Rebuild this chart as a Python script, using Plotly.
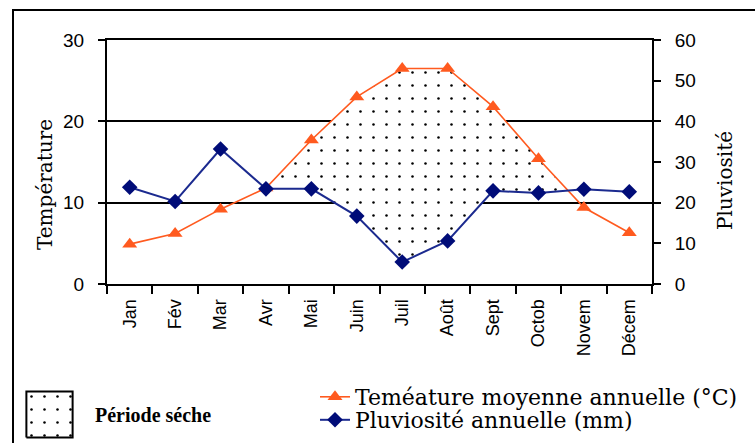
import numpy as np
import plotly.graph_objects as go

# ---------------- data ----------------
months = ["Jan", "Fév", "Mar", "Avr", "Mai", "Juin", "Juil", "Août", "Sept", "Octob", "Novem", "Décem"]
temperature = [4.9, 6.2, 9.2, 11.8, 17.7, 23.0, 26.5, 26.5, 21.8, 15.4, 9.4, 6.3]
pluviosite = [23.8, 20.3, 33.2, 23.4, 23.4, 16.7, 5.4, 10.6, 22.9, 22.4, 23.3, 22.7]
temp_ticks = [0, 10, 20, 30]
pluvio_ticks = [0, 10, 20, 30, 40, 50, 60]
series_names = ["Teméature moyenne annuelle (°C)", "Pluviosité annuelle (mm)"]

W, H = 755, 443
# plot area in pixels
PL, PR, PT, PB = 107, 652, 40, 284

ORANGE = "#FF5A1F"
NAVY_LINE = "#1B2A8F"
NAVY_MARK = "#000C78"

x = np.arange(len(months), dtype=float)
t = np.array(temperature, dtype=float)
p2 = np.array(pluviosite, dtype=float) / 2.0  # Gaussen: P = 2T
d = t - p2

# dry-period polygons (T above P/2), with interpolated crossings
regions = []
cur = None
for i in range(len(x)):
    if d[i] >= 0:
        if cur is None:
            cur = []
            if i > 0:
                f = d[i - 1] / (d[i - 1] - d[i])
                xc = x[i - 1] + f
                yc = t[i - 1] + f * (t[i] - t[i - 1])
                cur.append((xc, yc, yc))
        cur.append((x[i], t[i], p2[i]))
    else:
        if cur is not None:
            f = d[i - 1] / (d[i - 1] - d[i])
            xc = x[i - 1] + f
            yc = t[i - 1] + f * (t[i] - t[i - 1])
            cur.append((xc, yc, yc))
            regions.append(cur)
            cur = None
if cur is not None:
    regions.append(cur)

pattern = dict(shape=".", size=13, solidity=0.03, fgcolor="black", bgcolor="white", fillmode="replace")

serif = "DejaVu Serif"
sans = "Liberation Sans, Arial, sans-serif"

fig = go.Figure()

for reg in regions:
    xs = [r[0] for r in reg]
    up = [r[1] for r in reg]
    lo = [r[2] for r in reg]
    fig.add_trace(go.Scatter(
        x=xs + xs[::-1], y=up + lo[::-1], mode="lines", fill="toself",
        fillcolor="white", fillpattern=pattern, line=dict(width=0),
        hoverinfo="skip", showlegend=False, xaxis="x", yaxis="y"))

fig.add_trace(go.Scatter(
    x=x, y=temperature, mode="lines+markers",
    name=series_names[0],
    line=dict(color=ORANGE, width=1.6),
    marker=dict(symbol="triangle-up", size=13, color=ORANGE),
    xaxis="x", yaxis="y", legend="legend"))

fig.add_trace(go.Scatter(
    x=x, y=pluviosite, mode="lines+markers",
    name=series_names[1],
    line=dict(color=NAVY_LINE, width=2),
    marker=dict(symbol="diamond", size=12, color=NAVY_MARK),
    xaxis="x", yaxis="y2", legend="legend2"))

# legend key box for "Période séche"
fig.add_trace(go.Scatter(
    x=[0, 1, 1, 0, 0], y=[0, 0, 1, 1, 0], mode="lines", fill="toself",
    fillcolor="white", fillpattern=pattern, line=dict(color="black", width=2),
    hoverinfo="skip", showlegend=False, xaxis="x2", yaxis="y4"))

tick_font = dict(family=sans, size=19, color="black")
legend_font = dict(family=serif, size=22, color="black")

leg_common = dict(xanchor="left", yanchor="middle", font=legend_font,
                  bgcolor="rgba(0,0,0,0)", borderwidth=0, itemwidth=30)

fig.update_layout(
    width=W, height=H,
    font=dict(family=serif, size=21, color="black"),
    margin=dict(l=0, r=0, t=0, b=0, autoexpand=False),
    paper_bgcolor="white", plot_bgcolor="white",
    xaxis=dict(
        domain=[PL / W, PR / W], range=[-0.5, len(months) - 0.5],
        tickmode="array", tickvals=list(x), ticktext=months,
        tickangle=-90, ticks="", ticklabelstandoff=6,
        tickfont=dict(family=sans, size=18, color="black"),
        showgrid=False, zeroline=False,
        showline=True, linecolor="black", linewidth=2, mirror=True,
        minor=dict(ticks="outside", ticklen=8, tickwidth=2, tickcolor="black",
                   tick0=-0.5, dtick=1, showgrid=False),
        anchor="y", automargin=False, fixedrange=True),
    yaxis=dict(
        domain=[1 - PB / H, 1 - PT / H], range=[0, 30],
        tickmode="array", tickvals=temp_ticks,
        ticks="outside", ticklen=7, tickwidth=2, tickcolor="black",
        ticklabelstandoff=10, tickfont=tick_font,
        showgrid=True, gridcolor="black", gridwidth=2,
        zeroline=False, showline=True, linecolor="black", linewidth=2,
        anchor="x", automargin=False, fixedrange=True),
    yaxis2=dict(
        overlaying="y", side="right", anchor="x", range=[0, 60],
        tickmode="array", tickvals=pluvio_ticks,
        ticks="outside", ticklen=7, tickwidth=2, tickcolor="black",
        ticklabelstandoff=10, tickfont=tick_font,
        showgrid=False, zeroline=False, showline=True, linecolor="black", linewidth=2,
        automargin=False, fixedrange=True),
    yaxis3=dict(
        overlaying="y", side="right", anchor="x", range=[0, 60],
        tickmode="array", tickvals=[10, 30, 50],
        ticks="inside", ticklen=7, tickwidth=2, tickcolor="black",
        showticklabels=False, showgrid=False, zeroline=False, showline=False,
        automargin=False, fixedrange=True),
    xaxis2=dict(domain=[25 / W, 74 / W], range=[-0.03, 1.03], visible=False,
                anchor="y4", fixedrange=True),
    yaxis4=dict(domain=[1 - 439 / H, 1 - 390 / H], range=[-0.03, 1.03], visible=False,
                anchor="x2", fixedrange=True),
    showlegend=True,
    legend=dict(x=315 / W, y=1 - 397 / H, **leg_common),
    legend2=dict(x=315 / W, y=1 - 420 / H, **leg_common),
    shapes=[dict(type="rect", xref="paper", yref="paper",
                 x0=13 / W, x1=1.05, y0=-0.05, y1=1 - 10 / H,
                 line=dict(color="black", width=2), fillcolor="rgba(0,0,0,0)",
                 layer="below")],
    annotations=[
        dict(text="Température", xref="paper", yref="paper", x=45 / W, y=1 - 185 / H,
             textangle=-90, showarrow=False, xanchor="center", yanchor="middle",
             font=dict(family=serif, size=20, color="black")),
        dict(text="Pluviosité", xref="paper", yref="paper", x=725 / W, y=1 - 181 / H,
             textangle=-90, showarrow=False, xanchor="center", yanchor="middle",
             font=dict(family=serif, size=20, color="black")),
        dict(text="<b>Période séche</b>", xref="paper", yref="paper", x=93 / W, y=1 - 415 / H,
             showarrow=False, xanchor="left", yanchor="middle",
             font=dict(family="Liberation Serif, Times New Roman, serif", size=20, color="black")),
    ],
)

fig.write_html("out.html",
               config={"displayModeBar": False, "staticPlot": True},
               post_script="document.body.style.margin='0';document.body.style.padding='0';")
